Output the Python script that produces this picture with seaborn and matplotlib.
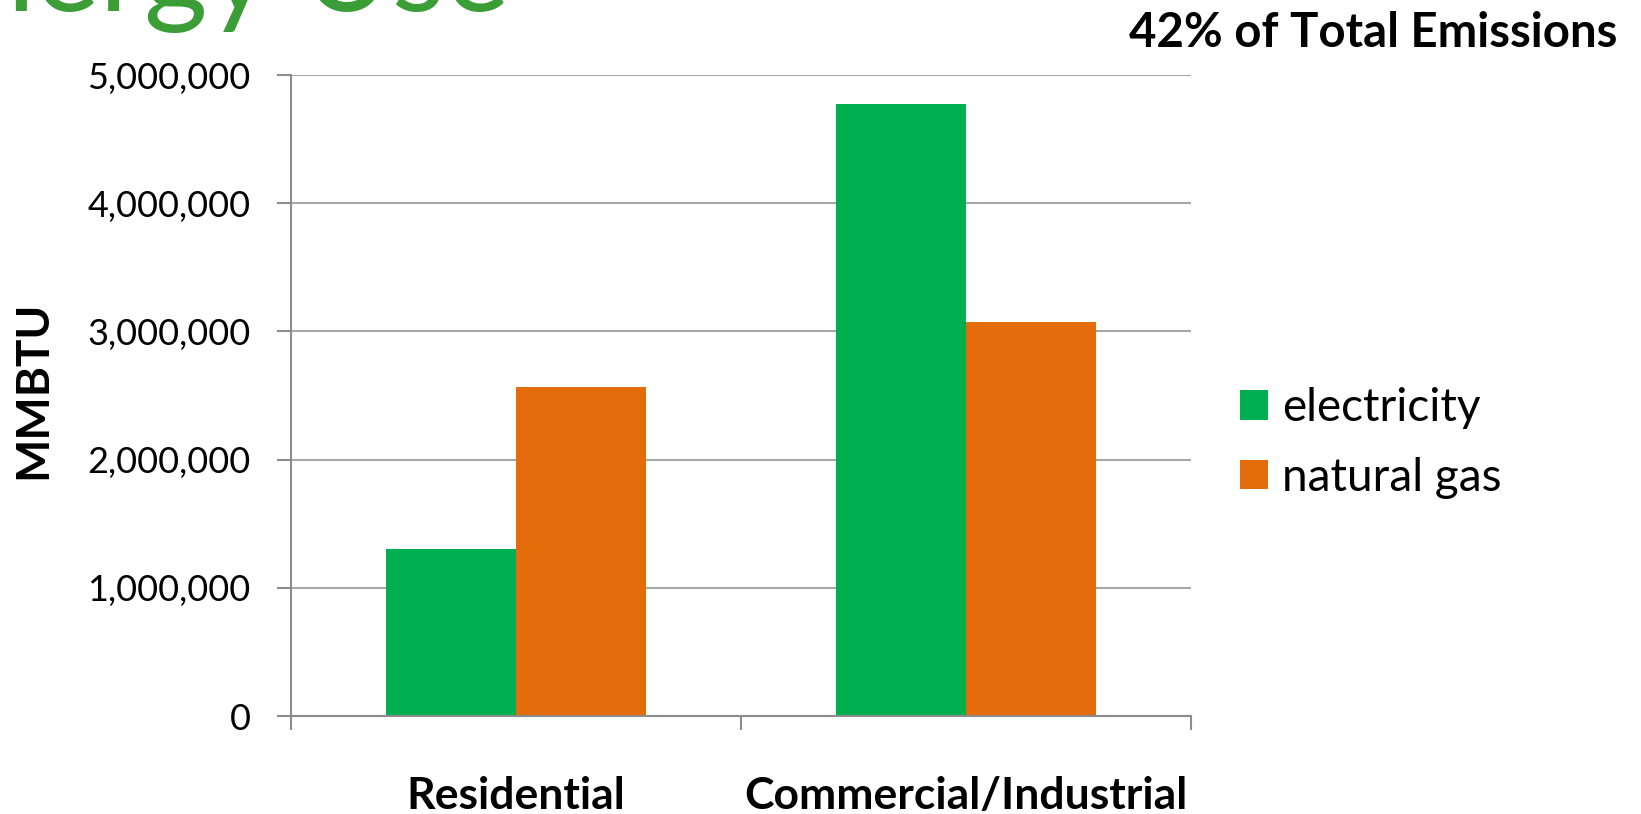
import matplotlib
matplotlib.use('Agg')

import pandas as pd
import matplotlib.pyplot as plt
import matplotlib.ticker as mticker
import seaborn as sns

sectors = ['Residential', 'Commercial/Industrial']
sources = ['electricity', 'natural gas']
electricity = [1300000, 4770000]
natural_gas = [2565000, 3070000]
colors = ['#00B050', '#E46C0A']

df = pd.DataFrame({
    'sector': sectors * 2,
    'source': [sources[0]] * 2 + [sources[1]] * 2,
    'MMBTU': electricity + natural_gas,
})

sns.set_theme(style='white')
plt.rcParams['font.family'] = ['Lato', 'DejaVu Sans']
plt.rcParams['text.color'] = 'black'
plt.rcParams['xtick.labelcolor'] = 'black'
plt.rcParams['ytick.labelcolor'] = 'black'

fig = plt.figure(figsize=(16.41, 8.14), dpi=100)
ax = fig.add_axes([291 / 1641, 1 - 716 / 814, 900 / 1641, 641 / 814])

sns.barplot(data=df, x='sector', y='MMBTU', hue='source', palette=colors,
            saturation=1, width=0.578, gap=0, ax=ax, linewidth=0)

ax.set_xlim(-0.5, 1.5)
ax.set_ylim(0, 5000000)
ax.yaxis.set_major_locator(mticker.MultipleLocator(1000000))
ax.yaxis.set_major_formatter(mticker.FuncFormatter(lambda v, p: f'{int(v):,}'))
ax.grid(axis='y', color='#A6A6A6', linewidth=1.5)
ax.set_axisbelow(True)
for s in ['top', 'right']:
    ax.spines[s].set_visible(False)
for s in ['left', 'bottom']:
    ax.spines[s].set_color('#8C8C8C')
    ax.spines[s].set_linewidth(1.5)

ax.set_xticks([0, 1])
ax.set_xticklabels(sectors, fontweight='bold', fontsize=32)
ax.set_xticks([-0.5, 0.5, 1.5], minor=True)
ax.tick_params(axis='x', which='major', bottom=False, length=0, pad=43)
ax.tick_params(axis='x', which='minor', bottom=True, length=10, width=1.5,
               color='#8C8C8C', direction='out')
ax.tick_params(axis='y', left=True, length=10, width=1.5, color='#8C8C8C',
               labelsize=26, pad=19)
ax.set_xlabel('')
ax.set_ylabel('')
fig.text(33 / 1641, 1 - 390 / 814, 'MMBTU', fontweight='bold', fontsize=33,
         rotation=90, ha='center', va='center')

handles, labels = ax.get_legend_handles_labels()
ax.legend(handles, labels, loc='center left', bbox_to_anchor=(1240 / 1641, 1 - 443 / 814),
          bbox_transform=fig.transFigure, frameon=False, fontsize=33,
          handlelength=0.62, handleheight=0.62, handletextpad=0.3, labelspacing=0.6,
          borderpad=0, borderaxespad=0)

fig.text(510 / 1641, 1 - 11 / 814, 'Energy Use', color='#3A9D35', fontsize=88,
         ha='right', va='baseline')
fig.text(1617 / 1641, 1 - 33 / 814, '42% of Total Emissions', fontweight='bold',
         fontsize=34, ha='right', va='center')

fig.savefig('out.png', dpi=100)
